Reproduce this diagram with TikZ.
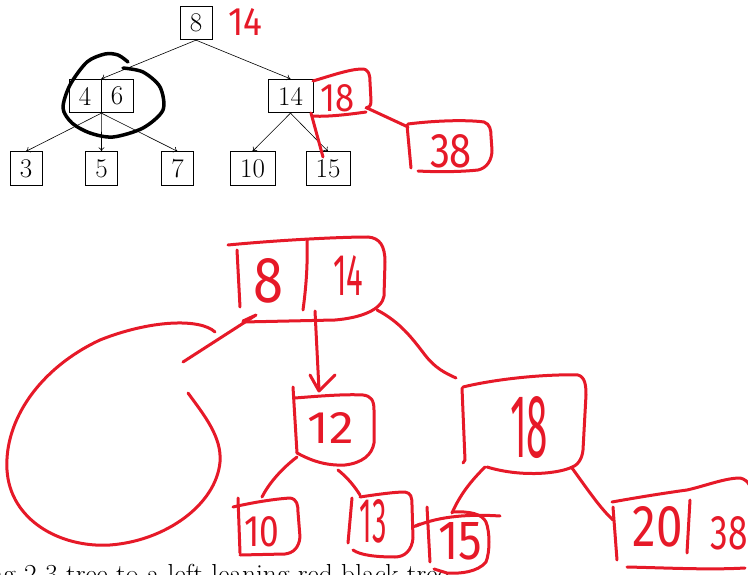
\documentclass[tikz,border=0pt]{standalone}
\usepackage{fontspec}
\newfontfamily\hand{Fira Sans}
\usetikzlibrary{arrows.meta}
\definecolor{hred}{RGB}{230,25,40}
\newcommand{\hw}[3]{\resizebox{#1pt}{#2pt}{\hand #3}}
\begin{document}
\begin{tikzpicture}[x=1pt,y=-1pt,
  tbox/.style={draw, line width=0.8pt, inner sep=0pt, minimum height=33.5pt, font=\fontsize{27}{27}\selectfont},
  tedge/.style={line width=0.6pt, -{To[length=4pt,width=6pt]}},
  ink/.style={hred, line width=3pt, line cap=round, line join=round},
  blackink/.style={black, line width=3.5pt, line cap=round, line join=round},
  hwt/.style={hred, inner sep=0pt}
]
\useasboundingbox (0,0) rectangle (748,575);
\clip (0,0) rectangle (748,575);

% ---------- top printed 2-3 tree ----------
\node[tbox, minimum width=32pt] (n8) at (196,23) {8};
\node[tbox, minimum width=32pt] (n4) at (85,96) {4};
\node[tbox, minimum width=32pt] (n6) at (117,96) {6};
\node[tbox, minimum width=45pt] (n14) at (290.5,96) {14};
\node[tbox, minimum width=32pt] (n3) at (26,168.5) {3};
\node[tbox, minimum width=32pt] (n5) at (101.5,168.5) {5};
\node[tbox, minimum width=32pt] (n7) at (177.5,168.5) {7};
\node[tbox, minimum width=45pt] (n10) at (252.5,168.5) {10};
\node[tbox, minimum width=44pt] (n15) at (328,168.5) {15};
\draw[tedge] (n8.south) -- (n4.north east);
\draw[tedge] (n8.south) -- (n14.north);
\draw[tedge] (n4.south east) -- (n3.north);
\draw[tedge] (n4.south east) -- (n5.north);
\draw[tedge] (n4.south east) -- (n7.north);
\draw[tedge] (n14.south) -- (n10.north);
\draw[tedge] (n14.south) -- (n15.north);

% caption (cut off by the page edge, as in the source)
\node[anchor=base west, inner sep=0pt, font=\fontsize{27.5}{30}\selectfont] (cap) at (-11,583) {ng 2-3 tree to a left-leaning red-black tree};

% ---------- black loop around 4|6 ----------
\draw[blackink] plot[smooth] coordinates {(128,62) (118,55) (105,54) (87,62) (70,85) (63,108) (72,123) (90,133) (113,137) (143,128) (163,110) (160,87) (143,72) (123,68)};

% ---------- red notes on top tree ----------
\node[hwt] (r14) at (245.5,22) {\hw{34}{27}{14}};
\draw[ink] (313,81) .. controls (330,76) and (350,69) .. (362,69) .. controls (369,69) and (370,75) .. (370,82) -- (371,101) .. controls (371,106) and (369,108) .. (366,108);
\draw[ink] (366,112) .. controls (345,115) and (325,117) .. (312,116);
\draw[ink] (311,113) -- (323,157);
\node[hwt] (r18) at (337.5,98.5) {\hw{34}{27}{18}};
\draw[ink] (367,108) -- (408,127);
\draw[ink] (407,125) -- (411,168);
\draw[ink] (408,124) .. controls (440,120) and (470,120) .. (484,122) .. controls (490,124) and (491,130) .. (491,136) -- (492,150) .. controls (492,160) and (487,168) .. (478,170) .. controls (460,172) and (435,172) .. (418,171);
\node[hwt] (r38) at (451,151.5) {\hw{42}{33}{38}};

% ---------- red left-leaning red-black tree ----------
% root 8|14
\draw[ink] (228,245) .. controls (280,240) and (340,237) .. (368,237) .. controls (380,238) and (385,246) .. (385,262) -- (384,296) .. controls (382,310) and (360,318) .. (335,320) -- (243,322);
\draw[ink] (237,250) -- (240,307);
\draw[ink] (307,240) .. controls (308,270) and (305,295) .. (303,310);
\node[hwt] (b8) at (268,281) {\hw{30}{44}{8}};
\node[hwt] (b14) at (348,275) {\hw{30}{40}{14}};
\coordinate (rootL) at (256,315);
\coordinate (rootM) at (315,311);
\coordinate (rootR) at (377,310);
% arrow to 12
\draw[ink] (rootM) -- (319,390);
\draw[ink] (310,375) -- (319,391) -- (335,375);
% arrow to the left loop
\draw[ink] (243,321) -- (rootL) -- (183,362);
\draw[ink] (215,332) .. controls (200,318) and (150,320) .. (100,340) .. controls (40,368) and (4,420) .. (7,470) .. controls (10,520) and (60,548) .. (110,545) .. controls (165,541) and (216,505) .. (220,462) .. controls (222,437) and (204,415) .. (188,393);
% root to 18
\draw[ink] (rootR) .. controls (400,322) and (412,338) .. (425,355) .. controls (435,368) and (445,373) .. (456,378);

% 12
\draw[ink] (293,387) -- (297,453);
\draw[ink] (295,398) .. controls (320,396) and (345,394) .. (363,395) .. controls (371,396) and (374,400) .. (374,410) -- (374,443) .. controls (372,455) and (362,463) .. (345,465) .. controls (325,466) and (310,460) .. (297,453);
\node[hwt] (b12) at (331,428) {\hw{46}{31}{12}};
\draw[ink] (297,457) .. controls (280,470) and (268,485) .. (262,497);
\draw[ink] (338,470) .. controls (348,478) and (355,487) .. (360,495);

% 10
\draw[ink] (233,507) .. controls (255,502) and (275,499) .. (290,498) .. controls (297,499) and (298,505) .. (298,512) -- (300,537) .. controls (299,548) and (293,553) .. (285,554) -- (240,555);
\draw[ink] (238,498) -- (240,553);
\node[hwt] (b10) at (262,532) {\hw{35}{30}{10}};

% 13
\draw[ink] (352,498) -- (348,543);
\draw[ink] (360,497) .. controls (380,494) and (395,492) .. (405,492) .. controls (411,493) and (412,497) .. (412,505) -- (413,538) .. controls (412,550) and (405,557) .. (395,557) .. controls (375,557) and (360,555) .. (353,550);
\node[hwt] (b13) at (373,521.5) {\hw{27}{43}{13}};
\draw[ink] (413,527) -- (420,524);

% 18
\draw[ink] (462,388) -- (465,460) -- (463,463);
\draw[ink] (463,387) .. controls (500,378) and (550,374) .. (578,375) .. controls (585,377) and (586,385) .. (586,395) -- (583,450) .. controls (582,460) and (577,466) .. (570,468) .. controls (555,474) and (520,477) .. (487,467);
\node[hwt] (b18) at (529,427.5) {\hw{38}{61}{18}};
\draw[ink] (485,467) .. controls (470,482) and (460,495) .. (452,513);
\draw[ink] (572,468) .. controls (588,490) and (600,508) .. (613,520);

% 15
\draw[ink] (427,507) -- (430,562);
\draw[ink] (416,526) .. controls (440,516) and (470,514) .. (500,516);
\draw[ink] (452,512) .. controls (470,511) and (482,514) .. (486,522) .. controls (490,532) and (490,552) .. (486,562) .. controls (478,572) and (460,574) .. (447,573) -- (434,569);
\node[hwt] (b15) at (460,541.5) {\hw{44}{37}{15}};

% 20|38
\draw[ink] (612,502) .. controls (640,497) and (665,493) .. (687,490) .. controls (705,486) and (725,478) .. (740,478) .. controls (745,479) and (748,482) .. (750,486);
\draw[ink] (613,507) -- (617,560);
\draw[ink] (690,500) -- (687,553);
\draw[ink] (627,567) .. controls (670,568) and (710,570) .. (745,568);
\node[hwt] (b20) at (658,527) {\hw{50}{40}{20}};
\node[hwt] (b38) at (729,533.5) {\hw{37}{33}{38}};
\end{tikzpicture}
\end{document}
